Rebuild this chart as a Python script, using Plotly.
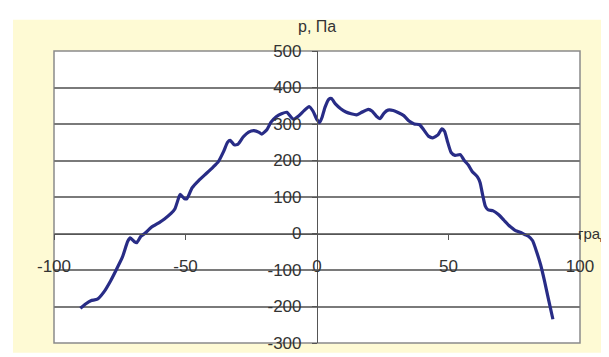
import plotly.graph_objects as go

angle_deg = [-90, -88, -86, -83.5, -81, -78.5, -76.5, -74, -72, -71, -69.5, -68.5, -67, -65.5,
             -63, -60, -58, -55.5, -54, -52.5, -52, -50.5, -49.5, -47.5, -45, -42, -39.5, -37.5,
             -35.5, -34, -33, -31.5, -30, -28, -26, -24, -22, -21, -19, -17.5, -15.5, -13.5,
             -11.5, -10, -9, -7, -5, -3, -1.5, 0, 1, 2, 3, 4.5, 5.5, 7, 9, 11, 13, 15, 17,
             19.5, 21, 22.5, 24, 25.5, 27, 29, 31, 33, 35, 37, 39, 40.5, 42.5, 44, 46, 47.5,
             48.5, 49.5, 51, 52.5, 54.5, 56, 57.5, 59, 61, 62, 63, 64, 65, 67, 69, 71, 73,
             75.5, 77.5, 79, 80.5, 82, 83.5, 85, 86.5, 88, 89.7]
pressure_pa = [-205, -193, -184, -180, -160, -130, -102, -65, -22, -12, -22, -25, -8, 0,
               17, 30, 40, 55, 68, 100, 107, 96, 95, 125, 145, 165, 182, 197,
               225, 250, 255, 243, 245, 265, 278, 282, 277, 272, 285, 305, 320, 328,
               332, 320, 313, 322, 336, 348, 335, 312, 304, 320, 345, 368, 370, 355, 342, 333, 328, 325, 332,
               340, 335, 322, 315, 330, 338, 337, 331, 323, 308, 300, 298, 285, 266, 262, 270, 287,
               280, 255, 222, 214, 216, 200, 188, 170, 155, 140, 105, 75, 65, 62, 52, 37, 22,
               8, 3, -3, -8, -20, -50, -85, -130, -180, -235]

x_ticks = [-100, -50, 0, 50, 100]
y_ticks = [-300, -200, -100, 0, 100, 200, 300, 400, 500]

W, H = 609, 357
L, R, T, B = 46, 37, 43, 15
pw, ph = W - L - R, H - T - B

def px_to_paper_x(px):
    return (px - L) / pw

def px_to_paper_y(py):
    return (H - B - py) / ph

YELLOW = "#FEFAD4"
GRID = "#7a7a7a"
FONT = "Liberation Sans, Arial, sans-serif"

fig = go.Figure()
fig.add_trace(go.Scatter(x=angle_deg, y=pressure_pa, mode="lines",
                         line=dict(color="#282C86", width=3.2, shape="spline", smoothing=0.5),
                         hoverinfo="skip", showlegend=False))

shapes = [
    dict(type="rect", xref="paper", yref="paper",
         x0=px_to_paper_x(-5), x1=px_to_paper_x(W + 5), y0=px_to_paper_y(11), y1=px_to_paper_y(-5),
         fillcolor="white", line=dict(width=0), layer="below"),
    dict(type="rect", xref="paper", yref="paper",
         x0=px_to_paper_x(-5), x1=px_to_paper_x(5), y0=px_to_paper_y(H + 5), y1=px_to_paper_y(-5),
         fillcolor="white", line=dict(width=0), layer="below"),
    dict(type="rect", xref="paper", yref="paper",
         x0=px_to_paper_x(-5), x1=px_to_paper_x(W + 5), y0=px_to_paper_y(H + 5), y1=px_to_paper_y(352),
         fillcolor="white", line=dict(width=0), layer="below"),
    dict(type="rect", xref="paper", yref="paper", x0=0, x1=1, y0=0, y1=1,
         fillcolor="rgba(0,0,0,0)", line=dict(color="#8a8a8a", width=1.5), layer="below"),
]

fig.update_layout(
    width=W, height=H,
    margin=dict(l=L, r=R, t=T, b=B, pad=0),
    paper_bgcolor=YELLOW, plot_bgcolor="white",
    font=dict(family=FONT, size=17, color="#333333"),
    shapes=shapes,
    xaxis=dict(range=[-100, 100], tickvals=x_ticks, ticktext=[str(v) for v in x_ticks],
               showgrid=False, zeroline=False, showline=True, linecolor="#555555", linewidth=1.2,
               ticks="outside", ticklen=5, tickcolor="#555555", anchor="free", position=0.375,
               ticklabelstandoff=12, tickfont=dict(size=17, color="#333333")),
    yaxis=dict(range=[-300, 500], tickvals=y_ticks, ticktext=[str(v) for v in y_ticks],
               showgrid=True, gridcolor=GRID, gridwidth=1.5, zeroline=False,
               showline=True, linecolor="#555555", linewidth=1.2,
               ticks="outside", ticklen=5, tickcolor="#555555", anchor="free", position=0.5,
               ticklabelstandoff=7, tickfont=dict(size=17, color="#333333")),
    annotations=[
        dict(text="p, Па", xref="x", yref="paper", x=0, y=px_to_paper_y(18),
             xanchor="center", yanchor="middle", showarrow=False,
             font=dict(family=FONT, size=16, color="#333333")),
        dict(text="град", xref="paper", yref="y", x=px_to_paper_x(569), y=0,
             xanchor="left", yanchor="middle", showarrow=False, borderpad=0,
             font=dict(family=FONT, size=15, color="#333333")),
    ],
)

fig.write_html("out.html")
